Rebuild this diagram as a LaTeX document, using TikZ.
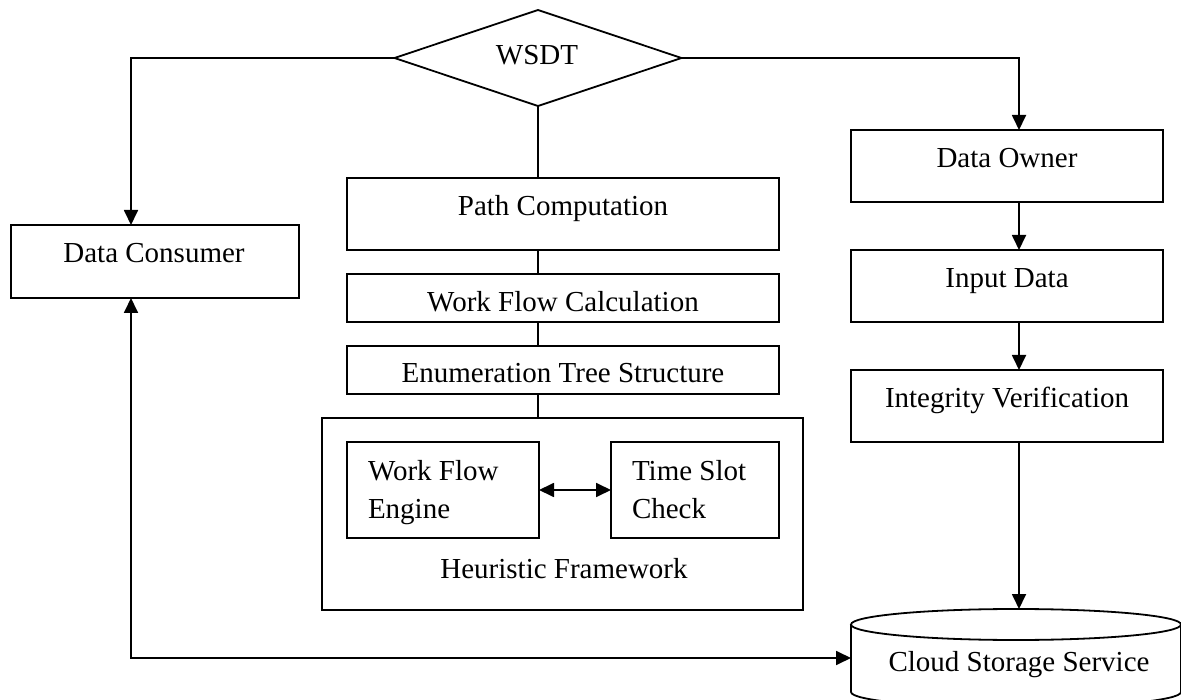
\documentclass[tikz,border=0pt]{standalone}
\usepackage{fontspec}
\setmainfont{Liberation Serif}
\usetikzlibrary{shapes.geometric,arrows.meta,calc}
\begin{document}
\begin{tikzpicture}[x=1pt,y=-1pt,
  every node/.style={inner sep=0pt, outer sep=0pt},
  box/.style={draw, line width=1.8pt},
  txt/.style={anchor=base, font=\fontsize{29}{38}\selectfont},
  ln/.style={line width=1.8pt},
  arr/.style={line width=1.8pt, -{Triangle[length=15pt,width=14pt]}},
  darr/.style={line width=1.8pt, {Triangle[length=15pt,width=14pt]}-{Triangle[length=15pt,width=14pt]}}]
\useasboundingbox (0,0) rectangle (1181,700);
\fill[white] (0,0) rectangle (1181,700);
% decision
\node[diamond, draw, line width=1.8pt, minimum width=287pt, minimum height=96pt] (wsdt) at (538,58) {};
\node[txt] (wsdtt) at (537,65) {WSDT};
% left
\node[box, minimum width=288pt, minimum height=73pt] (dc) at (155,261.5) {};
\node[txt] (dct) at (154,263) {Data Consumer};
% middle
\node[box, minimum width=432pt, minimum height=72pt] (pc) at (563,214) {};
\node[txt] (pct) at (563,216) {Path Computation};
\node[box, minimum width=432pt, minimum height=48pt] (wfc) at (563,298) {};
\node[txt] (wfct) at (563,312) {Work Flow Calculation};
\node[box, minimum width=432pt, minimum height=48pt] (ets) at (563,370) {};
\node[txt] (etst) at (563,383) {Enumeration Tree Structure};
\node[box, minimum width=481pt, minimum height=192pt] (hf) at (562.5,514) {};
\node[txt] (hft) at (564,578) {Heuristic Framework};
\node[box, minimum width=192pt, minimum height=96pt] (wfe) at (443,490) {};
\node[txt, anchor=north west, align=left] (wfet) at (368,460.5) {Work Flow\\Engine};
\node[box, minimum width=168pt, minimum height=96pt] (tsc) at (695,490) {};
\node[txt, anchor=north west, align=left] (tsct) at (632,460.5) {Time Slot\\Check};
% right
\node[box, minimum width=312pt, minimum height=72pt] (do) at (1007,166) {};
\node[txt] (dot) at (1007,168) {Data Owner};
\node[box, minimum width=312pt, minimum height=72pt] (id) at (1007,286) {};
\node[txt] (idt) at (1007,288) {Input Data};
\node[box, minimum width=312pt, minimum height=72pt] (iv) at (1007,406) {};
\node[txt] (ivt) at (1007,408) {Integrity Verification};
% cylinder
\node[minimum width=330pt, minimum height=98pt] (cs) at (1016,658) {};
\draw[ln, fill=white] (851,624.5) -- (851,692) arc[start angle=180, end angle=360, x radius=165pt, y radius=15.5pt] -- (1181,624.5);
\draw[ln] (1016,624.5) ellipse [x radius=165pt, y radius=15.5pt];
\node[txt] (cst) at (1019,671) {Cloud Storage Service};
% connectors
\draw[arr] (wsdt.west) -| ([xshift=-24pt]dc.north);
\draw[arr] (wsdt.east) -| ([xshift=12pt]do.north);
\draw[ln] (wsdt.south) -- (wsdt.south |- pc.north);
\draw[ln] (wsdt.south |- pc.south) -- (wsdt.south |- wfc.north);
\draw[ln] (wsdt.south |- wfc.south) -- (wsdt.south |- ets.north);
\draw[ln] (wsdt.south |- ets.south) -- (wsdt.south |- hf.north);
\draw[darr] (wfe.east) -- (tsc.west);
\draw[arr] ([xshift=12pt]do.south) -- ([xshift=12pt]id.north);
\draw[arr] ([xshift=12pt]id.south) -- ([xshift=12pt]iv.north);
\draw[arr] ([xshift=12pt]iv.south) -- ([xshift=12pt]iv.south |- cs.north);
\draw[darr] ([xshift=-24pt]dc.south) |- (cs.west);
\end{tikzpicture}
\end{document}
